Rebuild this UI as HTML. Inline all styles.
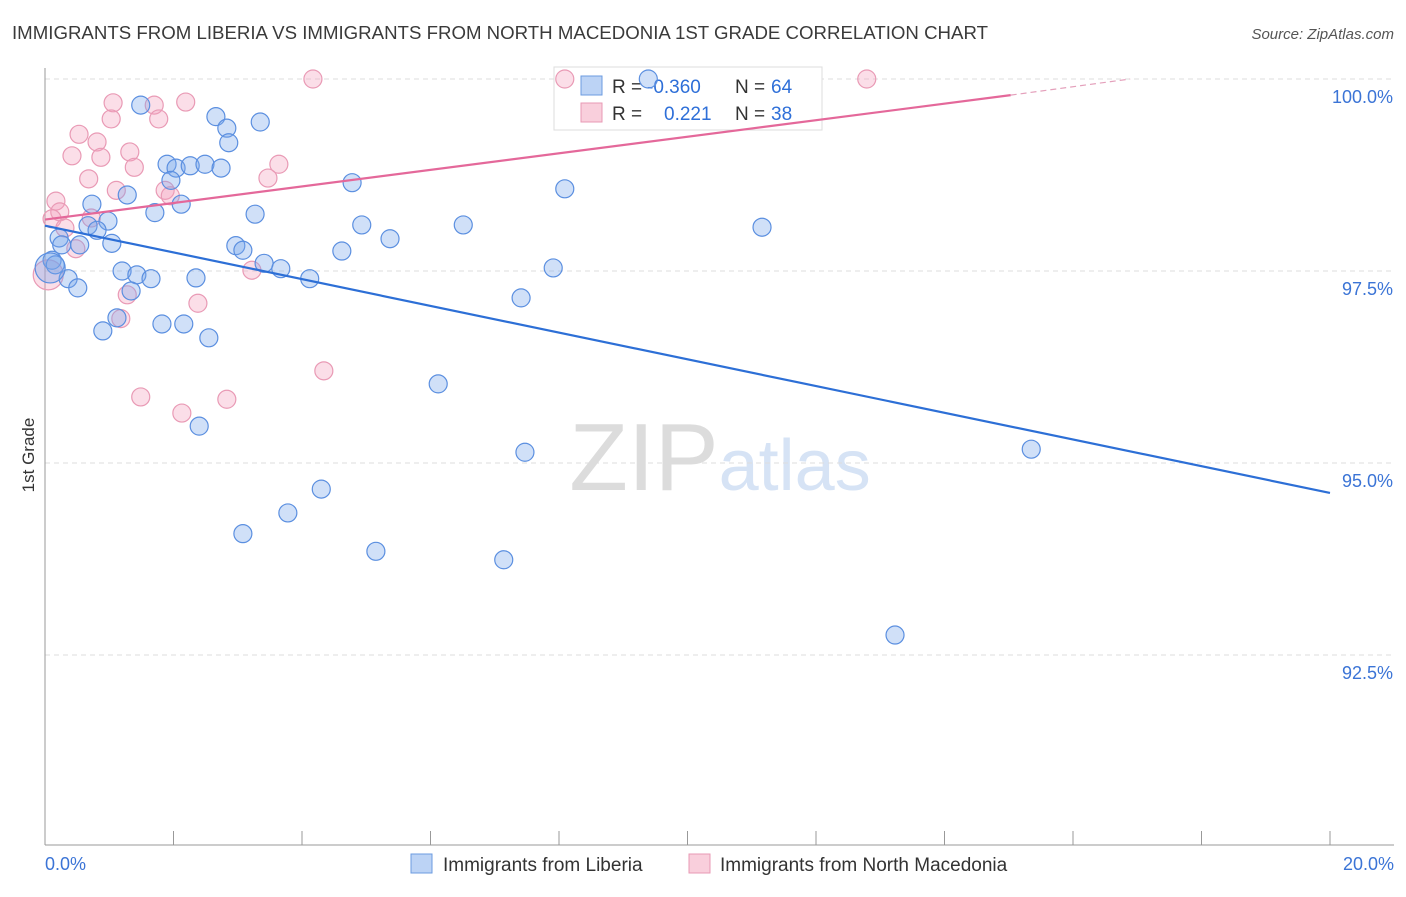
<!DOCTYPE html>
<html><head><meta charset="utf-8"><style>
body{margin:0;background:#fff;font-family:"Liberation Sans",sans-serif}
svg text{font-family:"Liberation Sans",sans-serif}
</style></head><body>
<svg id="chart" width="1406" height="892" xmlns="http://www.w3.org/2000/svg">
<text x="12" y="39" font-size="18" fill="#3a3a3a" textLength="976" lengthAdjust="spacingAndGlyphs">IMMIGRANTS FROM LIBERIA VS IMMIGRANTS FROM NORTH MACEDONIA 1ST GRADE CORRELATION CHART</text>
<text x="1394" y="39" font-size="15" fill="#555" text-anchor="end" font-style="italic">Source: ZipAtlas.com</text>
<text x="720" y="490" font-size="96" text-anchor="middle" fill="#e3e3e3" font-family="Liberation Serif"><tspan fill="#dcdcdc">ZIP</tspan><tspan fill="#d6e3f5" font-family="Liberation Sans" font-size="72">atlas</tspan></text>
<g id="grid"></g><g id="axes"></g>
<g>
<rect x="554" y="67" width="268" height="63" fill="#fff" stroke="#ddd"/>
<rect x="581" y="76" width="21" height="19" fill="#bcd3f5" stroke="#6b9be0"/>
<rect x="581" y="103" width="21" height="19" fill="#f9cfdc" stroke="#e89ab4"/>
<text y="93" font-size="19" fill="#333"><tspan x="612">R = </tspan><tspan x="647" fill="#2e6fd8">-0.360</tspan><tspan x="735">N = </tspan><tspan x="771" fill="#2e6fd8">64</tspan></text>
<text y="120" font-size="19" fill="#333"><tspan x="612">R = </tspan><tspan x="664" fill="#2e6fd8">0.221</tspan><tspan x="735">N = </tspan><tspan x="771" fill="#2e6fd8">38</tspan></text>
</g>
<g id="pts"></g><g id="lines"></g>
<text transform="translate(34,455) rotate(-90)" font-size="17" fill="#333" text-anchor="middle">1st Grade</text>
<g>
<rect x="411" y="854" width="21" height="19" fill="#bcd3f5" stroke="#6b9be0"/>
<text x="443" y="871" font-size="19" fill="#333">Immigrants from Liberia</text>
<rect x="689" y="854" width="21" height="19" fill="#f9cfdc" stroke="#e89ab4"/>
<text x="720" y="871" font-size="19" fill="#333">Immigrants from North Macedonia</text>
</g>
</svg>
<script>
const xTicks=[0,2,4,6,8,10,12,14,16,18,20];
const yTicks=[100,97.5,95,92.5];
const yTickLabels=["100.0%","97.5%","95.0%","92.5%"];
const blueX=[1.49,2.66,3.35,2.83,2.86,1.90,2.04,2.26,2.49,2.74,1.96,4.78,8.09,1.28,0.73,2.12,1.71,3.27,0.98,0.67,0.81,4.93,6.51,11.16,0.22,5.37,1.04,0.26,0.54,2.97,3.08,4.62,0.11,0.16,3.41,7.91,3.67,1.20,1.43,1.65,2.35,4.12,0.36,0.51,1.34,7.41,1.12,0.90,1.82,2.16,2.55,6.12,2.40,7.47,15.35,4.30,3.78,3.08,5.15,7.14,13.23,9.39,0.08];
const blueY=[99.66,99.51,99.44,99.36,99.17,98.89,98.84,98.87,98.89,98.84,98.68,98.65,98.57,98.49,98.37,98.37,98.26,98.24,98.15,98.09,98.03,98.10,98.10,98.07,97.93,97.92,97.86,97.84,97.84,97.83,97.77,97.76,97.64,97.58,97.60,97.54,97.53,97.50,97.45,97.40,97.41,97.40,97.40,97.28,97.24,97.15,96.89,96.72,96.81,96.81,96.63,96.03,95.48,95.14,95.18,94.66,94.35,94.08,93.85,93.74,92.76,100.0,97.54];
const blueBig=[62];
const pinkX=[4.17,8.09,12.79,1.06,1.70,2.19,1.03,1.77,0.53,0.81,0.42,0.87,1.32,1.39,3.64,0.68,3.47,1.11,1.87,0.17,1.95,0.23,0.11,0.72,0.31,0.48,3.22,1.28,2.38,1.18,4.34,1.49,2.83,2.13,0.05];
const pinkY=[100,100,100,99.69,99.66,99.70,99.48,99.48,99.28,99.18,99.0,98.98,99.05,98.85,98.89,98.70,98.71,98.55,98.55,98.41,98.48,98.27,98.18,98.19,98.06,97.79,97.51,97.19,97.08,96.88,96.20,95.86,95.83,95.65,97.45];
const pinkBig=[34];
const blueTrend=[[0,98.09],[20,94.61]];
const pinkTrend=[[0,98.17],[15.03,99.79]];
const pinkDash=[[15.03,99.79],[16.89,100.0]];
const NS="http://www.w3.org/2000/svg";
const X=v=>45+v/20*1285, Y=v=>79+(100-v)/2.5*192;
function mk(t,a,p){const e=document.createElementNS(NS,t);for(const k in a)e.setAttribute(k,a[k]);document.getElementById(p).appendChild(e);return e;}
yTicks.forEach((t,i)=>{
 const g=mk('line',{x1:45,x2:1394,y1:Y(t),y2:Y(t),stroke:'#ddd','stroke-dasharray':'5,4'},'grid');
 
 
 const l=mk('text',{x:1393,y:Y(t)+24,'font-size':18,fill:'#3b74d6','text-anchor':'end'},'axes');
 l.textContent=yTickLabels[i];
 
 
});
const ya=mk('line',{x1:45,x2:45,y1:68,y2:845,stroke:'#999'},'axes');


const xa=mk('line',{x1:45,x2:1394,y1:845,y2:845,stroke:'#999'},'axes');


xTicks.forEach(t=>{
 const k=mk('line',{x1:X(t),x2:X(t),y1:831,y2:845,stroke:'#999'},'axes');
 
 
});
[[0,'0.0%','start',45],[20,'20.0%','end',1394]].forEach(a=>{
 const l=mk('text',{x:a[3],y:870,'font-size':18,fill:'#3b74d6','text-anchor':a[2]},'axes');
 l.textContent=a[1];
 
 
});
function pts(xs,ys,big,fill,stroke,name){
 xs.forEach((x,i)=>{
  const c=mk('circle',{cx:X(x),cy:Y(ys[i]),r:big.includes(i)?15:9,fill:fill,stroke:stroke,'stroke-width':1.2},'pts');
  
  
 });
}
pts(pinkX,pinkY,pinkBig,'rgba(243,160,188,0.35)','#e99ab5','point-macedonia');
pts(blueX,blueY,blueBig,'rgba(120,165,235,0.35)','#5b8fe0','point-liberia');
const bl=mk('line',{x1:X(blueTrend[0][0]),y1:Y(blueTrend[0][1]),x2:X(blueTrend[1][0]),y2:Y(blueTrend[1][1]),stroke:'#2d6fd6','stroke-width':2.2},'lines');


const pl=mk('line',{x1:X(pinkTrend[0][0]),y1:Y(pinkTrend[0][1]),x2:X(pinkTrend[1][0]),y2:Y(pinkTrend[1][1]),stroke:'#e4689a','stroke-width':2.2},'lines');


const pd=mk('line',{x1:X(pinkDash[0][0]),y1:Y(pinkDash[0][1]),x2:X(pinkDash[1][0]),y2:Y(pinkDash[1][1]),stroke:'#e4a0bb','stroke-width':1.2,'stroke-dasharray':'6,4'},'lines');


</script>
</body></html>
